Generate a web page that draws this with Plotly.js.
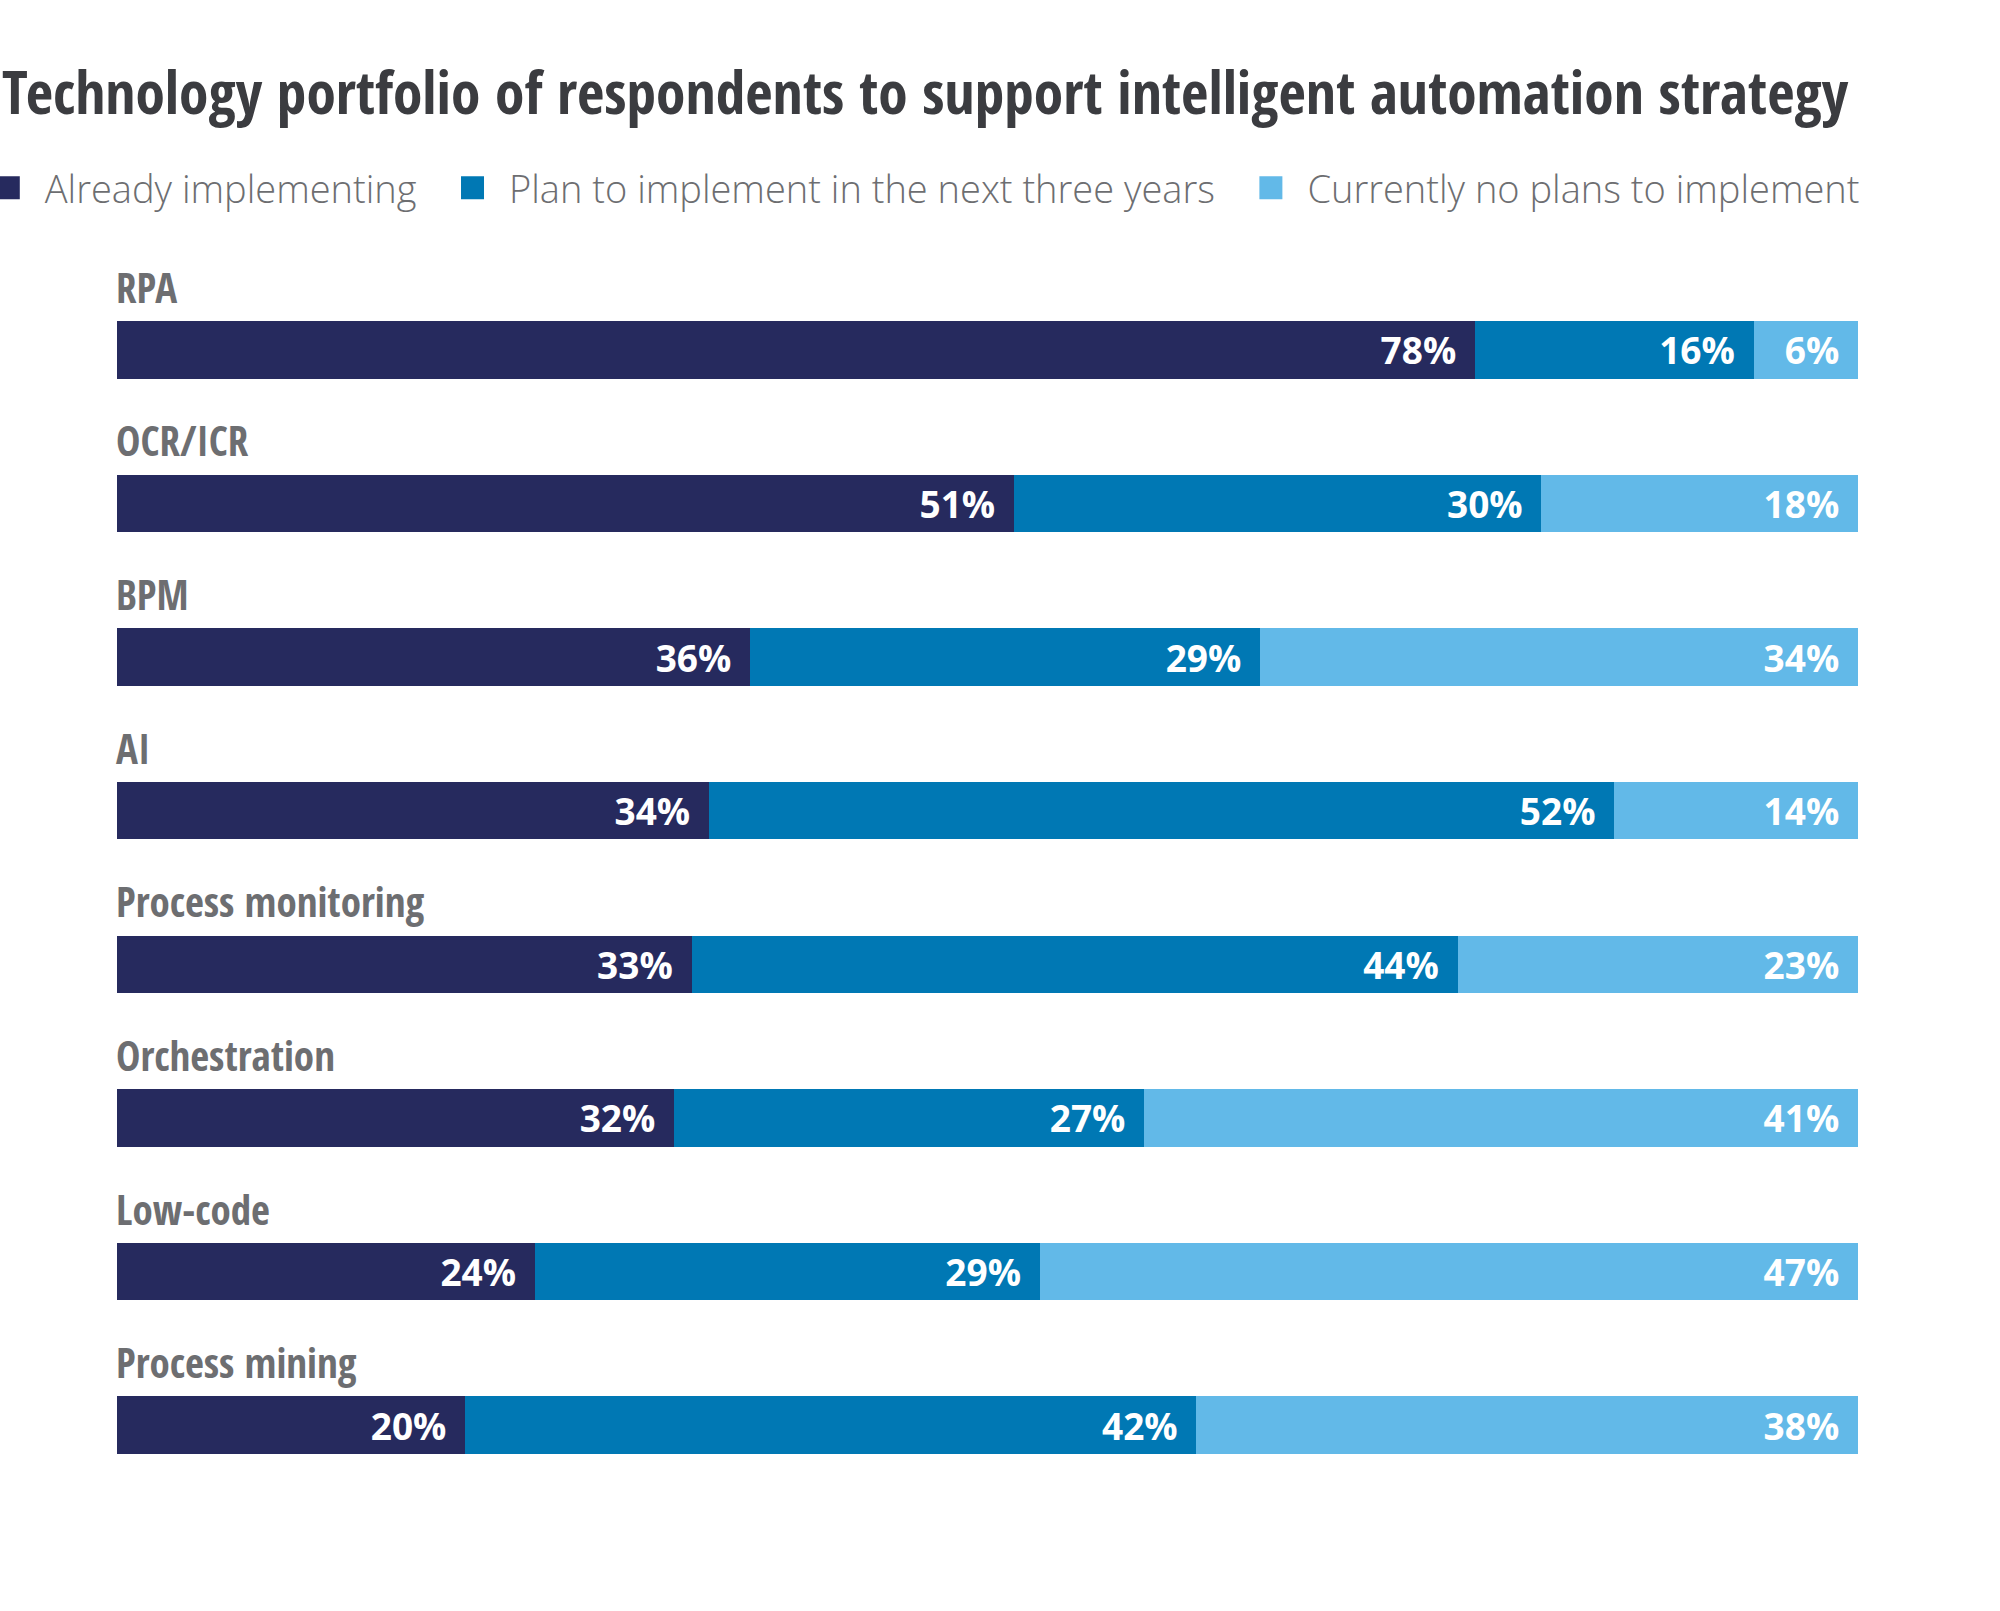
<!DOCTYPE html>
<html><head><meta charset="utf-8">
<script src="https://cdn.plot.ly/plotly-3.0.1.min.js"></script>
<style>
html,body{margin:0;padding:0;background:#fff;}
#chart{width:2000px;height:1611px;}
.js-plotly-plot .gtitle, .js-plotly-plot .annotation-text { font-stretch: 75%; }
.js-plotly-plot text { white-space: pre; }
</style></head><body><div id="chart"></div>
<script>
const categories = ["RPA","OCR/ICR","BPM","AI","Process monitoring","Orchestration","Low-code","Process mining"];
const alreadyImplementing = [78,51,36,34,33,32,24,20];
const planToImplement = [16,30,29,52,44,27,29,42];
const noPlans = [6,18,34,14,23,41,47,38];
const seriesNames = ["Already implementing","Plan to implement in the next three years","Currently no plans to implement"];
const seriesColors = ["#262a5e","#0078b4","#62b9e8"];
const chartTitle = "Technology portfolio of respondents to support intelligent automation strategy";

const condensed = '"Open Sans Condensed", "Open Sans", "Liberation Sans Narrow", sans-serif';
const pad = '\u00a0\u2009';
const legendPad = '\u00a0\u00a0\u00a0\u00a0';
const seriesValues = [alreadyImplementing, planToImplement, noPlans];

const traces = seriesValues.map((vals, i) => ({
  type: 'bar',
  orientation: 'h',
  name: seriesNames[i] + (i < seriesNames.length - 1 ? legendPad : ''),
  y: categories,
  x: vals,
  text: vals.map(v => v + '%' + pad),
  textposition: 'inside',
  insidetextanchor: 'end',
  constraintext: 'none',
  textfont: {family: '"Open Sans", sans-serif', size: 37, color: '#ffffff', weight: 700},
  marker: {color: seriesColors[i], line: {width: 0}},
  hoverinfo: 'skip'
}));

const annotations = categories.map(c => ({
  xref: 'paper', x: 0, xanchor: 'left', xshift: -3,
  yref: 'y', y: c, yanchor: 'middle', yshift: 63,
  text: c, showarrow: false,
  font: {family: condensed, size: 41, color: '#6d6e71', weight: 700}
}));

const plotTop = 273, plotBottom = 109, H = 1611;
const layout = {
  width: 2000, height: H,
  paper_bgcolor: '#ffffff', plot_bgcolor: '#ffffff',
  margin: {l: 117, r: 142, t: plotTop, b: plotBottom, pad: 0, autoexpand: false},
  barmode: 'stack', barnorm: 'percent', bargap: 0.626,
  showlegend: true,
  hovermode: false,
  title: {
    text: chartTitle, xref: 'container', x: 0.001, xanchor: 'left',
    yref: 'container', y: 1 - 93/H, yanchor: 'middle',
    font: {family: condensed, size: 59.5, color: '#3b3c40', weight: 700}
  },
  legend: {
    orientation: 'h', xref: 'paper', x: 1.0039, xanchor: 'right',
    yref: 'paper', y: (H - plotBottom - 188) / (H - plotTop - plotBottom), yanchor: 'middle',
    font: {family: '"Open Sans", sans-serif', size: 38, color: '#6d6e71', weight: 300},
    itemwidth: 38, traceorder: 'normal', itemclick: false, itemdoubleclick: false,
    bgcolor: 'rgba(0,0,0,0)'
  },
  xaxis: {range: [0, 100], showgrid: false, zeroline: false, showticklabels: false, showline: false, fixedrange: true},
  yaxis: {range: [categories.length - 0.5, -0.5], showgrid: false, zeroline: false, showticklabels: false, showline: false, fixedrange: true},
  annotations: annotations
};

Plotly.newPlot('chart', traces, layout, {displayModeBar: false, staticPlot: true}).then(gd => {
  document.querySelectorAll('.legendpoints path').forEach(p => {
    p.setAttribute('d', 'M-1,11.5H-24V-11.5H-1Z');
  });
});
</script></body></html>
